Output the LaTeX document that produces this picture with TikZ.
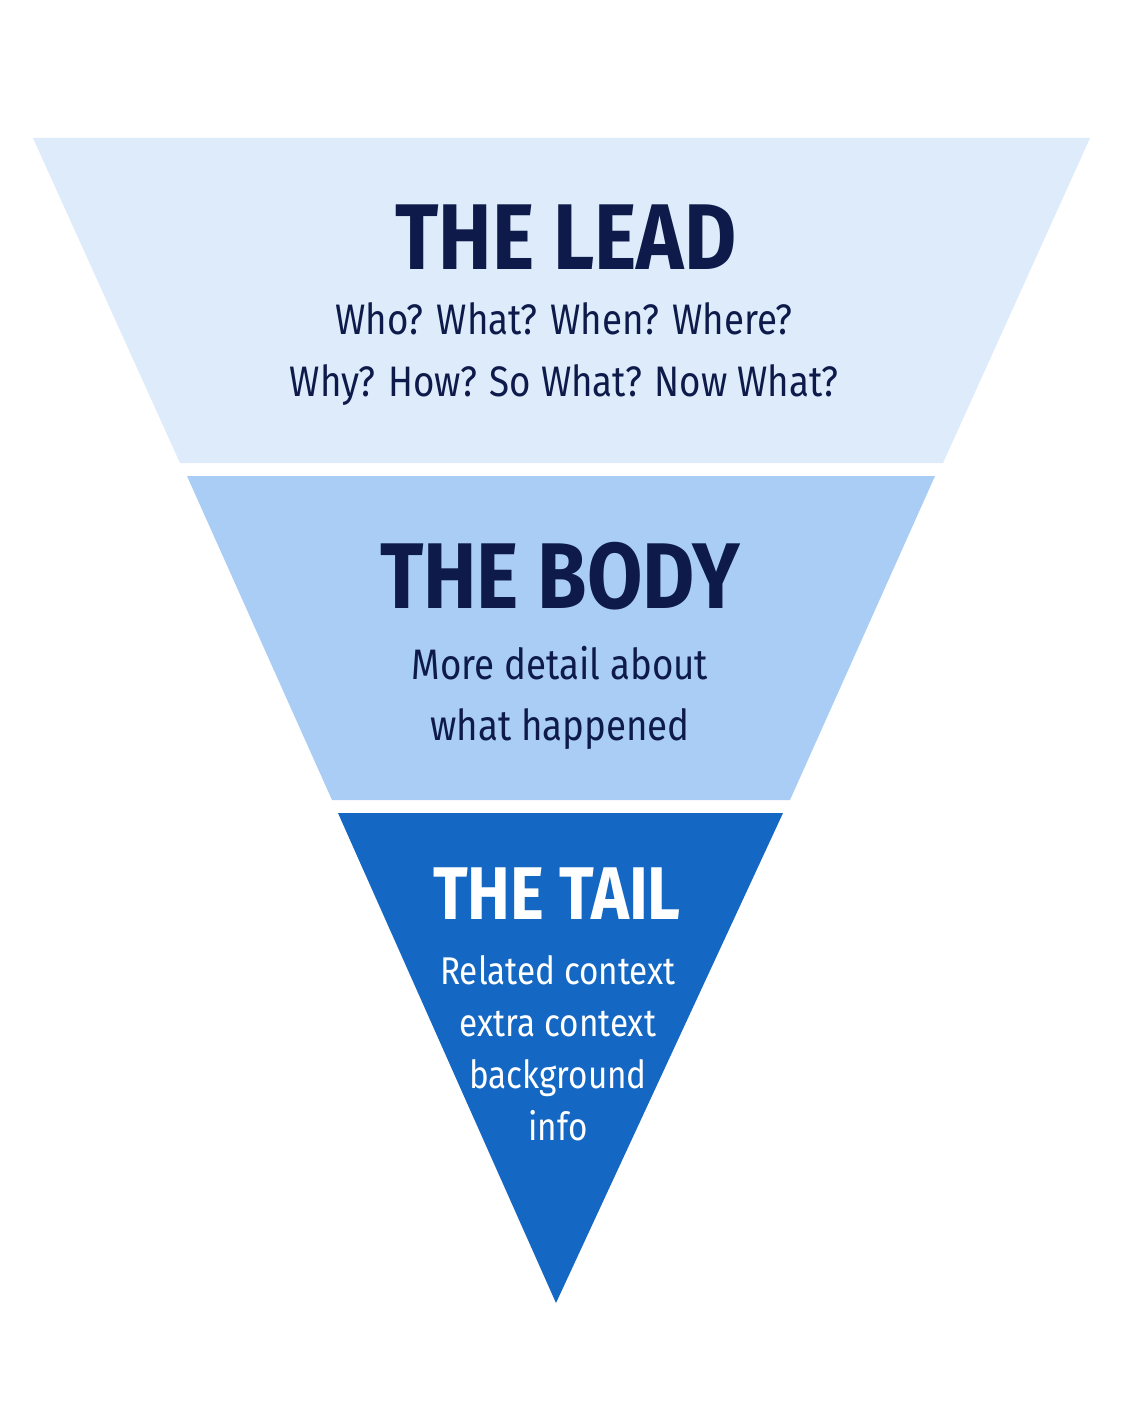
\documentclass[tikz,border=0pt]{standalone}
\usepackage{fontspec}
\setmainfont{Fira Sans}[FakeStretch=0.86]
\usetikzlibrary{positioning}
\definecolor{leadfill}{HTML}{DDEBFB}
\definecolor{bodyfill}{HTML}{A9CDF5}
\definecolor{tailfill}{HTML}{1467C2}
\definecolor{navy}{HTML}{0E1B4A}

\begin{document}
\begin{tikzpicture}[x=0.75pt,y=-0.75pt,
    title/.style={font=\fontsize{70}{70}\selectfont\bfseries, text=navy},
    info/.style={font=\fontsize{32}{46}\selectfont, text=navy, align=center}
    ]
    \fill[white] (0,0) rectangle (1122,1402);
    % layers
    \fill[leadfill] (33,138) -- (1090,138) -- (943,463) -- (180,463) -- cycle;
    \fill[bodyfill] (187,476) -- (935,476) -- (790,800) -- (332,800) -- cycle;
    \fill[tailfill] (338,813) -- (783,813) -- (556,1303) -- cycle;
    % texts
    \node[title] (lead) at (566,237) {THE LEAD};
    \node[info] (leadtext) at (564,354) {Who? What? When? Where?\\Why? How? So What? Now What?};
    \node[title] (body) at (560,576) {THE BODY};
    \node[info] (bodytext) at (560,698) {More detail about\\what happened};
    \node[title, font=\fontsize{56}{56}\selectfont\bfseries, text=white] (tail) at (557,894) {THE TAIL};
    \node[info, font=\fontsize{29}{39}\selectfont, text=white] (tailtext) at (558,1048)
        {Related context\\extra context\\background\\info};
\end{tikzpicture}
\end{document}
